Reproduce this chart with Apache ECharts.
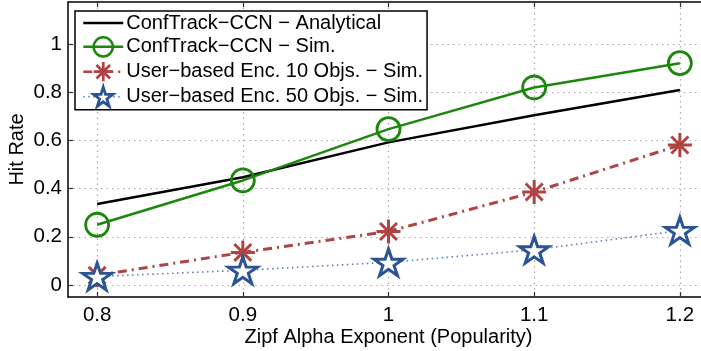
<!DOCTYPE html>
<html>
<head>
<meta charset="utf-8">
<script src="https://cdn.jsdelivr.net/npm/echarts@6/dist/echarts.min.js"></script>
<style>html,body{margin:0;padding:0;background:#fff}#c{width:701px;height:351px}</style>
</head>
<body>
<div id="c"></div>
<script>
const xValues = [0.8, 0.9, 1.0, 1.1, 1.2];
const analytical = [0.336, 0.447, 0.592, 0.705, 0.81];
const confTrackSim = [0.25, 0.434, 0.647, 0.82, 0.921];
const user10Sim = [0.04, 0.135, 0.222, 0.386, 0.581];
const user50Sim = [0.035, 0.061, 0.094, 0.146, 0.226];
const xTicks = [0.8, 0.9, 1.0, 1.1, 1.2];
const yTicks = [0, 0.2, 0.4, 0.6, 0.8, 1.0];
const seriesNames = [
  'ConfTrack\u2212CCN \u2212 Analytical',
  'ConfTrack\u2212CCN \u2212 Sim.',
  'User\u2212based Enc. 10 Objs. \u2212 Sim.',
  'User\u2212based Enc. 50 Objs. \u2212 Sim.'
];

const pairs = arr => xValues.map((x, i) => [x, arr[i]]);
const STAR = 'path://M0,-10L2.245,-3.09L9.51,-3.09L3.633,1.18L5.878,8.09L0,3.82L-5.878,8.09L-3.633,1.18L-9.51,-3.09L-2.245,-3.09Z';
const ASTER = 'path://M0,-10L0,10M-10,0L10,0M-7.07,-7.07L7.07,7.07M-7.07,7.07L7.07,-7.07';
const FONT = '"Liberation Sans", Arial, Helvetica, sans-serif';
const GREEN = '#1b870c', RED = '#b04343', BLUE = '#2b5493';

const chart = echarts.init(document.getElementById('c'), null, {renderer: 'canvas'});
chart.setOption({
  animation: false,
  backgroundColor: '#fff',
  grid: {left: 68, top: 2, right: -8, bottom: 54, show: false, containLabel: false, outerBoundsMode: 'none'},
  xAxis: [{
    type: 'value', min: 0.78, max: 1.22, position: 'bottom',
    name: 'Zipf Alpha Exponent (Popularity)', nameLocation: 'middle', nameGap: 30, nameMoveOverlap: false,
    nameTextStyle: {fontFamily: FONT, fontSize: 20, color: '#000'},
    axisLine: {show: true, onZero: false, lineStyle: {color: '#000', width: 1.5}},
    axisTick: {show: true, inside: true, length: 5, customValues: xTicks, lineStyle: {color: '#333', width: 1.2}},
    axisLabel: {show: true, customValues: xTicks, margin: 8, fontFamily: FONT, fontSize: 20.5, color: '#000',
      formatter: v => String(Math.round(v * 10) / 10)},
    splitLine: {show: true, lineStyle: {color: '#aaa', type: [1.5, 4], width: 1.2}}
  }, {
    type: 'value', min: 0.78, max: 1.22, position: 'top',
    axisLine: {show: true, onZero: false, lineStyle: {color: '#000', width: 1.5}},
    axisTick: {show: true, inside: true, length: 5, customValues: xTicks, lineStyle: {color: '#333', width: 1.2}},
    axisLabel: {show: false},
    splitLine: {show: false}
  }],
  yAxis: {
    type: 'value', min: -0.05, max: 1.175,
    name: 'Hit Rate', nameLocation: 'middle', nameGap: 41, nameMoveOverlap: false,
    nameTextStyle: {fontFamily: FONT, fontSize: 20, color: '#000'},
    axisLine: {show: true, onZero: false, lineStyle: {color: '#000', width: 1.5}},
    axisTick: {show: true, inside: true, length: 5, customValues: yTicks, lineStyle: {color: '#333', width: 1.2}},
    axisLabel: {show: true, customValues: yTicks, margin: 6, fontFamily: FONT, fontSize: 20.5, color: '#000',
      formatter: v => String(Math.round(v * 10) / 10)},
    splitLine: {show: true, lineStyle: {color: '#aaa', type: [1.5, 4], width: 1.2}}
  },
  legend: {
    show: true, orient: 'vertical', left: 75, top: 11,
    backgroundColor: '#fff', borderColor: '#000', borderWidth: 1.5,
    padding: [2, 4, 2, 7], itemGap: 3, itemWidth: 40, itemHeight: 24,
    textStyle: {fontFamily: FONT, fontSize: 20, color: '#000', padding: [0, 0, 0, -2]},
    data: [
      {name: seriesNames[0], itemStyle: {opacity: 0}, lineStyle: {width: 2.5}},
      {name: seriesNames[1], itemStyle: {borderWidth: 2.5, color: 'rgba(0,0,0,0)'}, lineStyle: {width: 2.5}},
      {name: seriesNames[2], itemStyle: {borderWidth: 2.8}, lineStyle: {width: 2.5}},
      {name: seriesNames[3], itemStyle: {borderWidth: 2.8}, lineStyle: {width: 1.6}}
    ]
  },
  series: [{
    name: seriesNames[0], type: 'line', data: pairs(analytical), showSymbol: false, symbol: 'circle', symbolSize: 1,
    lineStyle: {color: '#000', width: 2.5}, itemStyle: {color: '#000'}, z: 3
  }, {
    name: seriesNames[1], type: 'line', data: pairs(confTrackSim), symbol: 'circle', symbolSize: 23,
    lineStyle: {color: GREEN, width: 2.5},
    itemStyle: {color: 'rgba(0,0,0,0)', borderColor: GREEN, borderWidth: 2.8}, z: 4
  }, {
    name: seriesNames[2], type: 'line', data: pairs(user10Sim), symbol: ASTER, symbolSize: 24, symbolKeepAspect: true,
    lineStyle: {color: RED, width: 3, type: [9, 5, 2, 5]},
    itemStyle: {color: RED, borderColor: RED, borderWidth: 3}, z: 5
  }, {
    name: seriesNames[3], type: 'line', data: pairs(user50Sim), symbol: STAR, symbolSize: [29, 28], symbolKeepAspect: true,
    lineStyle: {color: '#5d7fb0', width: 1.6, type: [1.5, 3.5]},
    itemStyle: {color: '#fff', borderColor: BLUE, borderWidth: 3}, z: 6
  }]
});
</script>
</body>
</html>
